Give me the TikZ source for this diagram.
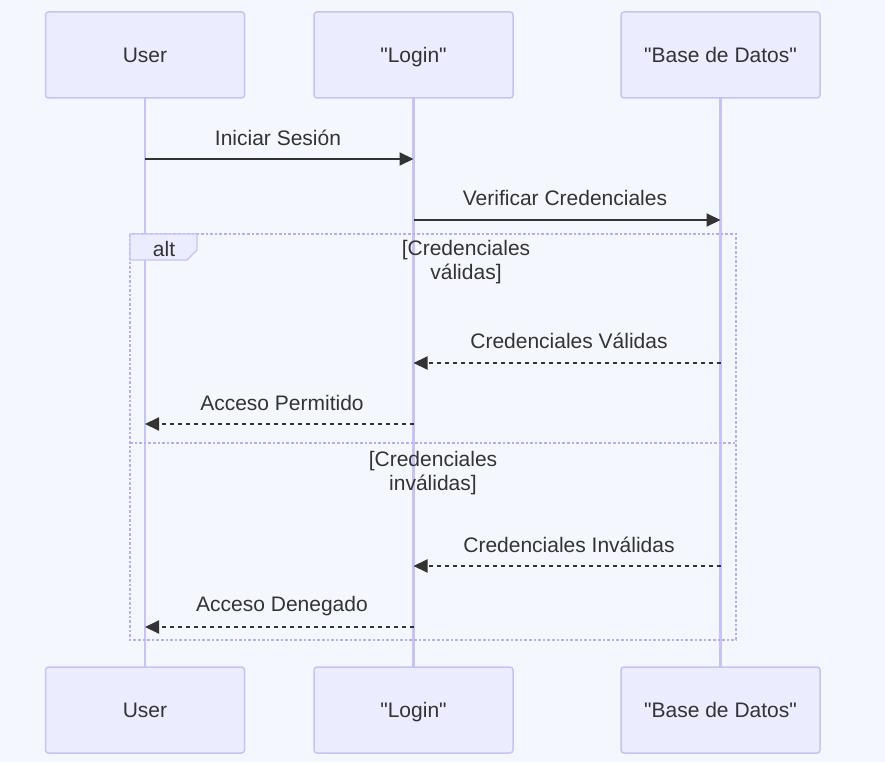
\documentclass[tikz,border=0pt]{standalone}
\usepackage{fontspec}
\setmainfont{Liberation Sans}[Ligatures=TeXOff]
\usetikzlibrary{arrows.meta}
\definecolor{bg}{HTML}{F5F7FE}
\definecolor{actfill}{HTML}{ECECFF}
\definecolor{actline}{HTML}{C6C3F6}
\definecolor{frameline}{HTML}{B3B0F3}
\definecolor{txt}{HTML}{333333}
\begin{document}
\begin{tikzpicture}[x=1pt,y=-1pt,
  actor/.style={draw=actline, fill=actfill, line width=1.5pt, rounded corners=3pt,
    minimum width=199pt, minimum height=86pt, inner sep=0pt,
    text height=15pt, text depth=0pt,
    font=\fontsize{21}{24}\selectfont, text=txt},
  lifeline/.style={draw=actline, line width=2.5pt},
  msg/.style={draw=txt, line width=2pt, -{Triangle[length=14pt,width=13pt]}},
  reply/.style={msg, dash pattern=on 4pt off 4pt},
  lbl/.style={font=\fontsize{21}{24}\selectfont, text=txt, inner sep=0pt},
  cond/.style={lbl, align=center},
  altframe/.style={draw=frameline, line width=2.8pt, dash pattern=on 2.6pt off 2pt}
]
\fill[bg] (0,0) rectangle (885,762);
\useasboundingbox (0,0) rectangle (885,762);

% lifelines
\draw[lifeline] (145,98) -- (145,667);
\draw[lifeline] (413.5,98) -- (413.5,667);
\draw[lifeline] (720.5,98) -- (720.5,667);

% actors
\node[actor] (userT)  at (145,55) {User};
\node[actor] (loginT) at (413.5,55) {"Login"};
\node[actor] (dbT)    at (720.5,55) {"Base de Datos"};
\node[actor] (userB)  at (145,710) {User};
\node[actor] (loginB) at (413.5,710) {"Login"};
\node[actor] (dbB)    at (720.5,710) {"Base de Datos"};

% alt frame
\draw[altframe] (130,234) rectangle (736,640);
\draw[altframe] (130,443) -- (736,443);
\draw[draw=actline, fill=actfill, line width=1.2pt] (130,234) -- (197,234) -- (197,250) -- (187,260) -- (130,260) -- cycle;
\node[lbl] (alt) at (164,249) {alt};
\node[cond] (c1) at (466,262) {[Credenciales\\válidas]};
\node[cond] (c2) at (433,473) {[Credenciales\\inválidas]};

% message anchors
\coordinate (u1) at (145,159);   \coordinate (l1) at (413.5,159);
\coordinate (l2) at (413.5,220); \coordinate (d2) at (720.5,220);
\coordinate (d3) at (720.5,363); \coordinate (l3) at (413.5,363);
\coordinate (l4) at (413.5,424); \coordinate (u4) at (145,424);
\coordinate (d5) at (720.5,566); \coordinate (l5) at (413.5,566);
\coordinate (l6) at (413.5,627); \coordinate (u6) at (145,627);

\draw[msg] (u1) -- (l1);
\node[lbl] (m1) at (278,138) {Iniciar Sesión};
\draw[msg] (l2) -- (d2);
\node[lbl] (m2) at (565,198) {Verificar Credenciales};
\draw[reply] (d3) -- (l3);
\node[lbl] (m3) at (569,341) {Credenciales Válidas};
\draw[reply] (l4) -- (u4);
\node[lbl] (m4) at (282,403) {Acceso Permitido};
\draw[reply] (d5) -- (l5);
\node[lbl] (m5) at (569,545) {Credenciales Inválidas};
\draw[reply] (l6) -- (u6);
\node[lbl] (m6) at (282,606) {Acceso Denegado};
\end{tikzpicture}
\end{document}
